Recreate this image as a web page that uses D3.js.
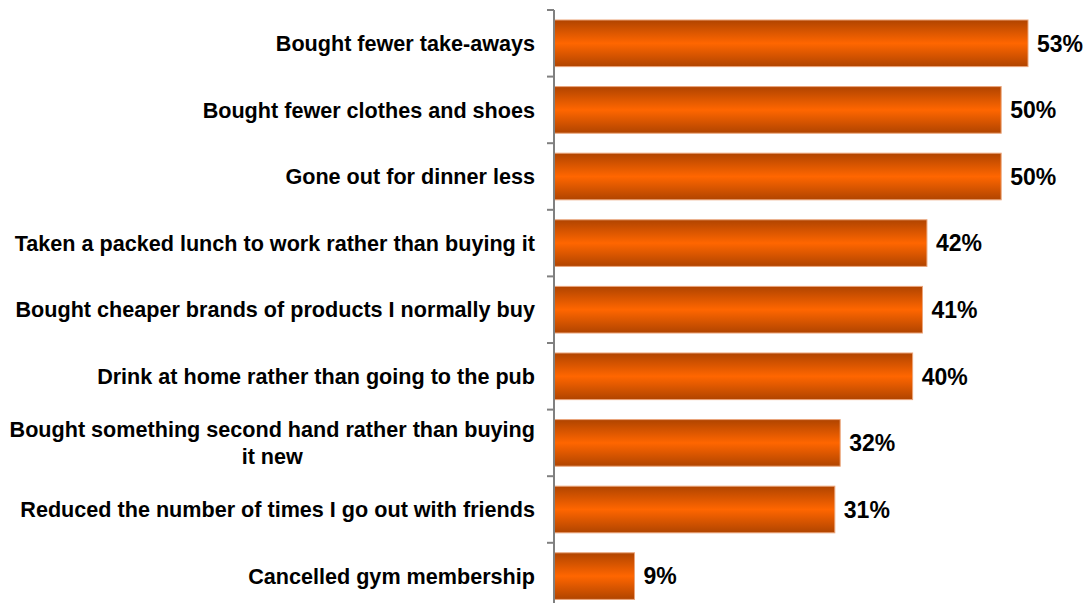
<!DOCTYPE html>
<html>
<head>
<meta charset="utf-8">
<script src="https://cdn.jsdelivr.net/npm/d3@7"></script>
<style>
  body { margin: 0; background: #fff; }
  text { font-family: "Liberation Sans", Arial, sans-serif; font-weight: bold; fill: #000; }
</style>
</head>
<body>
<div id="chart"></div>
<script>
// 1: DATA
const categories = [
    "Bought fewer take-aways",
    "Bought fewer clothes and shoes",
    "Gone out for dinner less",
    "Taken a packed lunch to work rather than buying it",
    "Bought cheaper brands of products I normally buy",
    "Drink at home rather than going to the pub",
    "Bought something second hand rather than buying|it new",
    "Reduced the number of times I go out with friends",
    "Cancelled gym membership"
];
const values = [53, 50, 50, 41.7, 41.2, 40.1, 32, 31.4, 9];

// 2: SIZES
const W = 1088, H = 603;
const axisX = 554;
const topY = 10;

const svg = d3.select("#chart")
    .append("svg")
    .attr("width", W)
    .attr("height", H);

// gradient for the bars
const defs = svg.append("defs");
const grad = defs.append("linearGradient")
    .attr("id", "barGrad")
    .attr("x1", 0).attr("y1", 0).attr("x2", 0).attr("y2", 1);
grad.append("stop").attr("offset", "0%").attr("stop-color", "#b04400");
grad.append("stop").attr("offset", "50%").attr("stop-color", "#ff6600");
grad.append("stop").attr("offset", "100%").attr("stop-color", "#b04400");

// 3: SCALES
const xScale = d3.scaleLinear()
    .domain([0, 60])
    .range([axisX, axisX + 536.6]);

const yScale = d3.scaleBand()
    .domain(categories)
    .range([topY, topY + 9 * 66.6])
    .paddingInner(0.3)
    .paddingOuter(0.15);

// 4: BARS
svg.selectAll(".bar")
    .data(categories)
    .enter()
    .append("rect")
    .attr("class", "bar")
    .attr("x", xScale(0))
    .attr("y", d => yScale(d))
    .attr("width", (d, i) => xScale(values[i]) - xScale(0))
    .attr("height", yScale.bandwidth())
    .attr("fill", "url(#barGrad)")
    .attr("stroke", "#eba57a")
    .attr("stroke-width", 1);

// value labels
svg.selectAll(".val")
    .data(categories)
    .enter()
    .append("text")
    .attr("class", "val")
    .attr("x", (d, i) => xScale(values[i]) + 9)
    .attr("y", d => yScale(d) + yScale.bandwidth() / 2)
    .attr("dy", "0.36em")
    .style("font-size", "23px")
    .text((d, i) => Math.round(values[i]) + "%");

// 5: AXIS (line + ticks at band boundaries)
const step = yScale.step();
const boundaries = d3.range(categories.length + 1).map(i => topY + i * step);

svg.append("line")
    .attr("x1", axisX).attr("x2", axisX)
    .attr("y1", topY).attr("y2", H + 10)
    .attr("stroke", "#808080")
    .attr("stroke-width", 2);

svg.selectAll(".tick")
    .data(boundaries)
    .enter()
    .append("line")
    .attr("class", "tick")
    .attr("x1", axisX - 7).attr("x2", axisX)
    .attr("y1", d => d).attr("y2", d => d)
    .attr("stroke", "#808080")
    .attr("stroke-width", 2);

// category labels
const labelRight = 535;
const lineH = 27;
categories.forEach(c => {
    const lines = c.split("|");
    const cy = yScale(c) + yScale.bandwidth() / 2;
    const g = svg.append("g");
    if (lines.length === 1) {
        g.append("text")
            .attr("x", labelRight)
            .attr("y", cy)
            .attr("dy", "0.36em")
            .attr("text-anchor", "end")
            .style("font-size", "21.6px")
            .text(c);
    } else {
        const t = lines.map((ln, k) => g.append("text")
            .attr("y", cy + (k - (lines.length - 1) / 2) * lineH)
            .attr("dy", "0.36em")
            .attr("text-anchor", "middle")
            .style("font-size", "21.6px")
            .text(ln));
        const w = d3.max(t, s => s.node().getComputedTextLength());
        t.forEach(s => s.attr("x", labelRight - w / 2));
    }
});
</script>
</body>
</html>
